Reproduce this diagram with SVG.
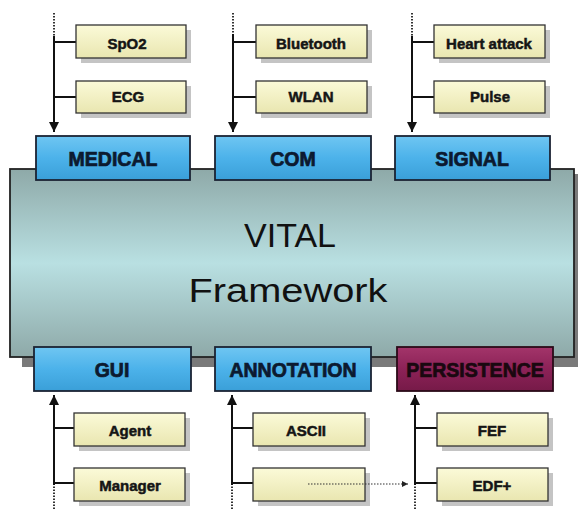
<svg xmlns="http://www.w3.org/2000/svg" width="578" height="509" viewBox="0 0 578 509">
<defs>
<linearGradient id="gFrame" x1="0" y1="0" x2="0" y2="1">
<stop offset="0" stop-color="#8ea9a8"/>
<stop offset="0.5" stop-color="#b9e0e2"/>
<stop offset="1" stop-color="#8ea9a8"/>
</linearGradient>
<linearGradient id="gBlue" x1="0" y1="0" x2="0" y2="1">
<stop offset="0" stop-color="#6fc6f2"/>
<stop offset="0.5" stop-color="#4cb2ea"/>
<stop offset="1" stop-color="#3a9fd8"/>
</linearGradient>
<linearGradient id="gRed" x1="0" y1="0" x2="0" y2="1">
<stop offset="0" stop-color="#a3356a"/>
<stop offset="0.5" stop-color="#8c2257"/>
<stop offset="1" stop-color="#761a48"/>
</linearGradient>
<linearGradient id="gYel" x1="0" y1="0" x2="0" y2="1">
<stop offset="0" stop-color="#fbfad8"/>
<stop offset="1" stop-color="#e9e6b0"/>
</linearGradient>
<marker id="arr" viewBox="0 0 10 10" refX="10" refY="5" markerWidth="10" markerHeight="10" markerUnits="userSpaceOnUse" orient="auto">
<path d="M0,0 L10,5 L0,10 z" fill="#111"/>
</marker>
<marker id="arrS" viewBox="0 0 10 10" refX="10" refY="5" markerWidth="6" markerHeight="6" markerUnits="userSpaceOnUse" orient="auto">
<path d="M0,0 L10,5 L0,10 z" fill="#222"/>
</marker>
</defs>
<style>
.y{fill:url(#gYel);stroke:#333;stroke-width:1.3}
.ysh{fill:#c4c4c4}
.b{fill:url(#gBlue);stroke:#1b2333;stroke-width:1.8}
.r{fill:url(#gRed);stroke:#2a0a18;stroke-width:1.8}
.t{font-family:"Liberation Sans",Arial,sans-serif;font-weight:bold;font-size:15px;fill:#151515;stroke:#151515;stroke-width:0.5;text-anchor:middle}
.T{font-family:"Liberation Sans",Arial,sans-serif;font-weight:bold;font-size:19.5px;fill:#0c1a30;stroke:#0c1a30;stroke-width:0.7;text-anchor:middle}
.Tr{fill:#1a0810;stroke:#1a0810}
.big{font-family:"Liberation Sans",Arial,sans-serif;font-size:34px;fill:#111;text-anchor:middle}
.ln{stroke:#111;stroke-width:2;fill:none}
.dt{stroke:#333;stroke-width:2;stroke-dasharray:1.5 1.5;fill:none}
.dh{stroke:#333;stroke-width:1.2;stroke-dasharray:1.5 1.5;fill:none}
</style>
<rect width="578" height="509" fill="#ffffff"/>

<g id="framework">
<rect x="22" y="174" width="556" height="193" fill="#7a7a7a"/>
<rect x="10" y="169" width="564" height="188" fill="url(#gFrame)" stroke="#222" stroke-width="1.8"/>
<text class="big" x="290" y="247">VITAL</text>
<text class="big" x="288" y="302" textLength="199" lengthAdjust="spacingAndGlyphs">Framework</text>
</g>

<g id="connectors">
<line class="dt" x1="54" y1="13" x2="54" y2="36"/>
<line class="ln" x1="54" y1="36" x2="54" y2="132" marker-end="url(#arr)"/>
<line class="ln" x1="54" y1="42" x2="76" y2="42"/>
<line class="ln" x1="54" y1="97" x2="76" y2="97"/>
<line class="dt" x1="233" y1="13" x2="233" y2="34"/>
<line class="ln" x1="233" y1="34" x2="233" y2="132" marker-end="url(#arr)"/>
<line class="ln" x1="233" y1="42" x2="256" y2="42"/>
<line class="ln" x1="233" y1="97" x2="256" y2="97"/>
<line class="dt" x1="412" y1="13" x2="412" y2="36"/>
<line class="ln" x1="412" y1="36" x2="412" y2="132" marker-end="url(#arr)"/>
<line class="ln" x1="412" y1="42" x2="434" y2="42"/>
<line class="ln" x1="412" y1="97" x2="434" y2="97"/>
<line class="dt" x1="54" y1="509" x2="54" y2="485"/>
<line class="ln" x1="54" y1="485" x2="54" y2="395" marker-end="url(#arr)"/>
<line class="ln" x1="54" y1="428" x2="74" y2="428"/>
<line class="ln" x1="54" y1="483" x2="74" y2="483"/>
<line class="dt" x1="232" y1="509" x2="232" y2="485"/>
<line class="ln" x1="232" y1="485" x2="232" y2="395" marker-end="url(#arr)"/>
<line class="ln" x1="232" y1="428" x2="253" y2="428"/>
<line class="ln" x1="232" y1="483" x2="253" y2="483"/>
<line class="dt" x1="415" y1="509" x2="415" y2="485"/>
<line class="ln" x1="415" y1="485" x2="415" y2="395" marker-end="url(#arr)"/>
<line class="ln" x1="415" y1="428" x2="437" y2="428"/>
<line class="ln" x1="415" y1="483" x2="437" y2="483"/>
</g>

<g id="medical"><rect class="b" x="36" y="136" width="154" height="44"/><text class="T" x="113" y="166">MEDICAL</text></g>
<g id="com"><rect class="b" x="215" y="136" width="156" height="44"/><text class="T" x="293" y="166">COM</text></g>
<g id="signal"><rect class="b" x="395" y="136" width="155" height="44"/><text class="T" x="472" y="166">SIGNAL</text></g>

<g id="gui"><rect class="b" x="34" y="347" width="157" height="44"/><text class="T" x="112" y="377">GUI</text></g>
<g id="annotation"><rect class="b" x="215" y="347" width="156" height="44"/><text class="T" x="293" y="377">ANNOTATION</text></g>
<g id="persistence"><rect class="r" x="397" y="347" width="156" height="44"/><text class="T Tr" x="475" y="377">PERSISTENCE</text></g>

<g id="spo2"><rect class="ysh" x="81" y="30" width="110" height="33"/><rect class="y" x="76" y="25" width="110" height="33"/><text class="t" x="127" y="49">SpO2</text></g>
<g id="ecg"><rect class="ysh" x="81" y="86" width="110" height="32"/><rect class="y" x="76" y="81" width="110" height="32"/><text class="t" x="128" y="102">ECG</text></g>
<g id="bluetooth"><rect class="ysh" x="261" y="30" width="111" height="33"/><rect class="y" x="256" y="25" width="111" height="33"/><text class="t" x="311" y="49">Bluetooth</text></g>
<g id="wlan"><rect class="ysh" x="261" y="86" width="111" height="32"/><rect class="y" x="256" y="81" width="111" height="32"/><text class="t" x="311" y="102">WLAN</text></g>
<g id="heartattack"><rect class="ysh" x="439" y="30" width="111" height="33"/><rect class="y" x="434" y="25" width="111" height="33"/><text class="t" x="489" y="49">Heart attack</text></g>
<g id="pulse"><rect class="ysh" x="439" y="86" width="111" height="32"/><rect class="y" x="434" y="81" width="111" height="32"/><text class="t" x="490" y="102">Pulse</text></g>

<g id="agent"><rect class="ysh" x="79" y="418" width="111" height="33"/><rect class="y" x="74" y="413" width="111" height="33"/><text class="t" x="130" y="436">Agent</text></g>
<g id="manager"><rect class="ysh" x="79" y="473" width="111" height="33"/><rect class="y" x="74" y="468" width="111" height="33"/><text class="t" x="130" y="491">Manager</text></g>
<g id="ascii"><rect class="ysh" x="258" y="418" width="112" height="33"/><rect class="y" x="253" y="413" width="112" height="33"/><text class="t" x="306" y="436">ASCII</text></g>
<g id="empty"><rect class="ysh" x="258" y="473" width="112" height="33"/><rect class="y" x="253" y="468" width="112" height="33"/></g>
<g id="fef"><rect class="ysh" x="442" y="418" width="111" height="33"/><rect class="y" x="437" y="413" width="111" height="33"/><text class="t" x="492" y="436">FEF</text></g>
<g id="edf"><rect class="ysh" x="442" y="473" width="111" height="33"/><rect class="y" x="437" y="468" width="111" height="33"/><text class="t" x="492" y="491">EDF+</text></g>

<g id="connectors-dotted">
<line class="dh" x1="308" y1="484" x2="408" y2="484" marker-end="url(#arrS)"/>
</g>
</svg>
